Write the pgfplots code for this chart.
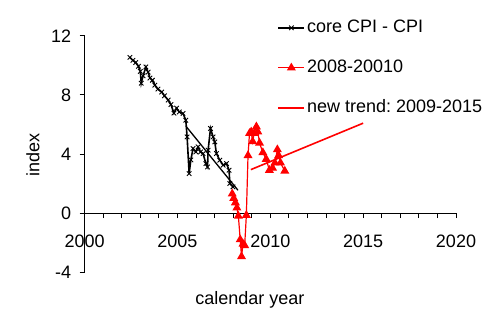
\documentclass[border=0pt]{standalone}
\usepackage{pgfplots}
\pgfplotsset{compat=1.18}
\usepackage{fontspec}
\setmainfont{Liberation Sans}
\frenchspacing
\newcommand{\fs}{\fontsize{18bp}{21bp}\selectfont}
\begin{document}
\begin{tikzpicture}[x=1bp,y=1bp]
\useasboundingbox (0,0) rectangle (498,334);
\begin{axis}[
  at={(84.6bp,62bp)}, anchor=south west,
  scale only axis, width=371.4bp, height=236bp,
  xmin=2000, xmax=2020, ymin=-4, ymax=12,
  axis y line=left, axis x line=middle,
  axis line style={-, line width=1bp},
  hide obscured x ticks=false,
  xtick={2000,2005,2010,2015,2020},
  minor x tick num=4,
  ytick={-4,0,4,8,12},
  tick align=outside,
  major tick length=5bp, minor tick length=5bp,
  tick style={black, line width=1bp},
  /pgf/number format/assume math mode=true,
  /pgf/number format/1000 sep={},
  tick label style={font=\fs},
  xticklabel style={yshift=-13bp},
  yticklabel style={xshift=-5bp},
  xlabel={calendar year}, ylabel={index},
  label style={font=\fs},
  xlabel style={at={(axis description cs:0.445,-0.12)}, anchor=center},
  ylabel style={at={(axis description cs:-0.139,0.496)}, anchor=center},
  clip=false,
  legend cell align=left,
  legend style={draw=none, fill=none, font=\fs, at={(axis description cs:0.519,1.08)}, anchor=north west, row sep=19bp, inner sep=0pt, nodes={text height=13bp, text depth=4bp}},
  legend image code/.code={\draw[mark repeat=2,mark phase=2,#1] plot coordinates {(0bp,0bp) (13bp,0bp) (26bp,0bp)};},
]
\addplot[black, line width=1.6bp, mark=x, mark size=3.2bp, mark options={line width=0.9bp}] coordinates {
(2002.44,10.55) (2002.6,10.35) (2002.75,10.2) (2002.9,9.95) (2003.0,9.6) (2003.05,8.8)
(2003.15,9.3) (2003.3,9.9) (2003.42,9.55) (2003.52,9.15) (2003.65,9.0) (2003.78,8.67)
(2003.95,8.4) (2004.15,8.2) (2004.3,7.95) (2004.5,7.66) (2004.65,7.35) (2004.81,6.77)
(2004.95,7.11) (2005.1,6.85) (2005.3,6.75) (2005.45,6.29) (2005.52,5.16) (2005.63,2.67)
(2005.72,3.6) (2005.84,4.37) (2005.99,4.14) (2006.11,4.48) (2006.24,4.14) (2006.38,4.03)
(2006.53,3.35) (2006.62,3.12) (2006.65,4.26) (2006.78,5.73) (2006.92,5.16) (2007.01,4.82)
(2007.1,4.03) (2007.28,3.58) (2007.46,3.24) (2007.64,3.35) (2007.78,2.9) (2007.82,2.0)
(2007.99,1.77)
};
\addlegendentry{core CPI - CPI}
\addplot[red, line width=1.2bp, mark=triangle*, mark size=4bp] coordinates {
(2007.95,1.3) (2008.03,1.0) (2008.12,0.7) (2008.2,0.35) (2008.28,-0.2) (2008.38,-1.8)
(2008.45,-2.95) (2008.53,-2.1) (2008.62,-2.2) (2008.71,-0.15) (2008.8,3.9) (2008.88,5.4)
(2008.97,5.5) (2009.05,4.85) (2009.13,5.4) (2009.25,5.85) (2009.33,5.5) (2009.42,4.75)
(2009.6,4.1) (2009.78,3.65) (2009.95,2.9) (2010.12,3.05) (2010.25,3.4) (2010.38,4.3)
(2010.45,3.9) (2010.55,3.4) (2010.78,2.85)
};
\addlegendentry{2008-20010}
\addplot[red, line width=1.6bp] coordinates {(2008.95,2.94) (2015.0,6.09)};
\addlegendentry{new trend: 2009-2015}
\addplot[black, line width=1.3bp, forget plot] coordinates {(2005.46,5.88) (2008.26,1.54)};
\end{axis}
\end{tikzpicture}
\end{document}
